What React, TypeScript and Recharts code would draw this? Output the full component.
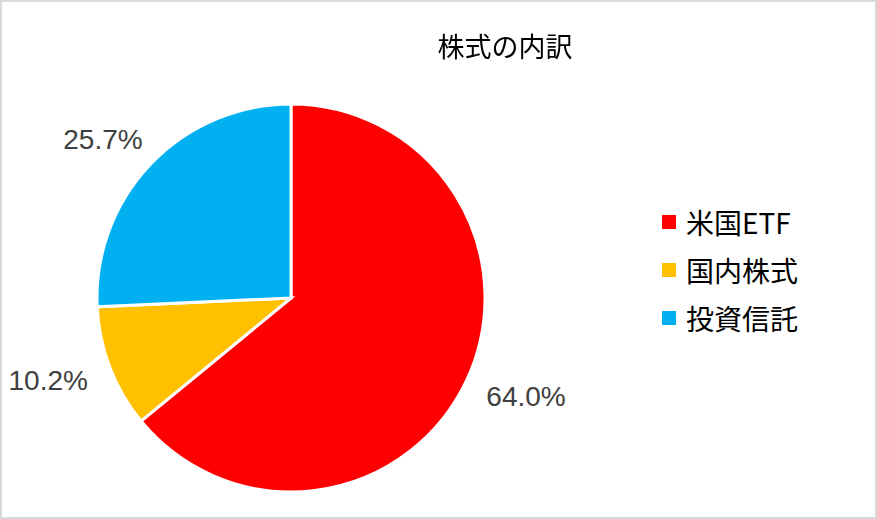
import React from 'react';
import { PieChart, Pie, Cell, Legend } from 'recharts';

const categories = ['米国ETF', '国内株式', '投資信託'];
const values = [64.0, 10.2, 25.7];
const colors = ['#FF0000', '#FFC000', '#00B0F0'];
const title = '株式の内訳';

const data = categories.map((name, i) => ({ name, value: values[i] }));

const RAD = Math.PI / 180;
const LABEL_FONT = 28;

const renderLabel = (props: any) => {
  const { cx, cy, midAngle, outerRadius, value } = props;
  const gap = 22;
  const r = outerRadius + gap;
  const c = Math.cos(-midAngle * RAD);
  const s = Math.sin(-midAngle * RAD);
  const ax = cx + r * c;
  const ay = cy + r * s;
  const hw = 44;
  const hh = 14;
  const x = ax + hw * c;
  const y = ay + hh * s;
  return (
    <text
      x={x}
      y={y}
      fill="#404040"
      textAnchor="middle"
      dominantBaseline="central"
      fontFamily="'Liberation Sans', Arial, sans-serif"
      fontSize={LABEL_FONT}
    >
      {Number(value).toFixed(1)}%
    </text>
  );
};

const renderLegend = (props: any) => {
  const payload = [...(props.payload || [])].sort(
    (a: any, b: any) => categories.indexOf(a.value) - categories.indexOf(b.value)
  );
  return (
    <div>
      {payload.map((entry: any, i: number) => (
        <div
          key={i}
          style={{
            display: 'flex',
            alignItems: 'center',
            height: 48,
            fontFamily: "'Noto Sans CJK JP', 'Liberation Sans', sans-serif",
            fontSize: 28,
            color: '#000',
          }}
        >
          <span
            style={{
              display: 'inline-block',
              width: 14,
              height: 14,
              background: entry.color,
              marginRight: 10,
            }}
          />
          <span style={{ lineHeight: '48px' }}>{entry.value}</span>
        </div>
      ))}
    </div>
  );
};

export default function App() {
  return (
    <div
      style={{
        position: 'fixed',
        left: 0,
        top: 0,
        width: 877,
        height: 519,
        background: '#fff',
      }}
    >
      <PieChart width={877} height={519} margin={{ top: 0, right: 0, bottom: 0, left: 0 }}>
        <Pie
          data={data}
          dataKey="value"
          nameKey="name"
          cx={291}
          cy={298}
          outerRadius={194}
          startAngle={90}
          endAngle={-270}
          stroke="#FFFFFF"
          strokeWidth={3}
          label={renderLabel}
          labelLine={false}
          isAnimationActive={false}
        >
          {data.map((d, i) => (
            <Cell key={d.name} fill={colors[i]} />
          ))}
        </Pie>
        <Legend
          layout="vertical"
          content={renderLegend}
          wrapperStyle={{ position: 'absolute', left: 662, top: 198, width: 200 }}
        />
      </PieChart>
      <div
        style={{
          position: 'absolute',
          left: 0,
          top: 28,
          width: 1010,
          textAlign: 'center',
          fontFamily: "'Noto Sans CJK JP', sans-serif",
          fontSize: 27,
          lineHeight: '36px',
          color: '#000',
          pointerEvents: 'none',
        }}
      >
        {title}
      </div>
      <div
        style={{
          position: 'absolute',
          left: 0,
          top: 0,
          width: 877,
          height: 519,
          boxSizing: 'border-box',
          border: '2px solid #D9D9D9',
          pointerEvents: 'none',
        }}
      />
    </div>
  );
}
